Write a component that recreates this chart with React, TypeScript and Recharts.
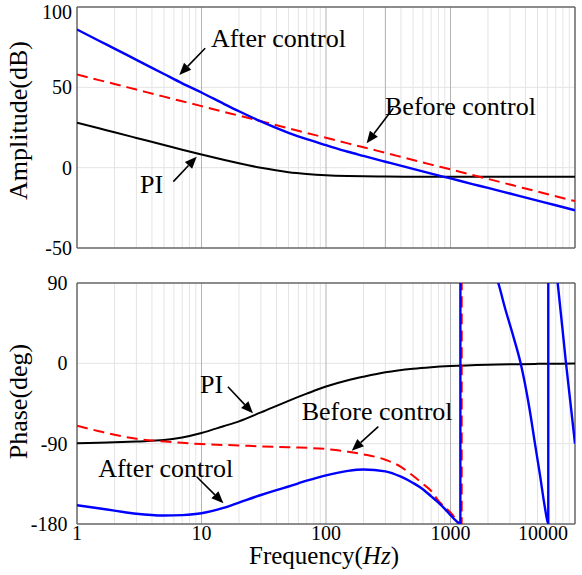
import React from 'react'
import { LineChart, Line, XAxis, YAxis, ReferenceLine, ReferenceDot, Label } from 'recharts'

const FONT = "'Liberation Serif', Tinos, 'Times New Roman', serif"

// ---- amplitude panel (dB) ----
const ampFreq = [1, 1.5, 2, 3, 5, 7, 10, 15, 20, 30, 50, 70, 100, 150, 200, 300, 500, 700, 1000, 1500, 2000, 3000, 5000, 7000, 10000]
const ampBefore = [58, 54.5, 52.1, 48.6, 44.2, 41.3, 38.3, 34.8, 32.4, 28.9, 24.5, 21.6, 18.6, 15.1, 12.7, 9.2, 4.8, 1.9, -1.1, -4.6, -7.0, -10.5, -14.9, -17.8, -20.8]
const ampAfter = [86.0, 79.0, 74.1, 67.1, 58.3, 52.5, 46.8, 39.9, 35.1, 28.8, 21.7, 17.7, 14.0, 9.9, 7.3, 3.7, -0.8, -3.7, -6.7, -10.2, -12.6, -16.1, -20.5, -23.4, -26.5]
const ampPI = [28.0, 24.5, 22.0, 18.5, 14.1, 11.2, 8.2, 4.9, 2.7, -0.1, -2.8, -3.9, -4.7, -5.2, -5.4, -5.5, -5.6, -5.6, -5.6, -5.6, -5.6, -5.6, -5.6, -5.6, -5.6]

// ---- phase panel (deg) ----
const phPIFreq = [1, 2, 3, 5, 7, 10, 15, 20, 30, 50, 70, 100, 150, 200, 300, 500, 700, 1000, 2000, 5000, 10000]
const phPI = [-89.5, -88.5, -87.5, -86, -83, -78, -70.5, -65, -55, -42, -34, -26, -19, -15, -10, -6, -4.3, -3, -1.5, -0.6, -0.3]

// wraps from -180 to +180 (values above 90 are clipped by the axis)
const phBeforeFreq = [1, 1.5, 2, 3, 4.4, 7, 10, 20, 30, 50, 100, 150, 200, 300, 400, 500, 600, 700, 800, 900, 1000, 1100, 1230, 1231]
const phBefore = [-70, -76, -80, -84.5, -87, -89, -90.5, -92, -93, -94, -96, -99, -102, -108, -116, -126, -135, -143, -154, -161, -167, -174, -180, 180]

const phAfterFreq = [1, 2, 3, 5, 7, 10, 15, 20, 30, 40, 50, 70, 100, 150, 200, 300, 400, 500, 600, 700, 800, 900, 1000, 1100, 1200, 1201, 1800, 2420, 2740, 3200, 3660, 4300, 4770, 5230, 5740, 6100, 6101, 7260, 8470, 10000]
const phAfter = [-159, -165, -168.5, -170.5, -170, -168, -162, -156, -147.5, -142, -138, -131.5, -125.5, -120.5, -119, -121, -127, -134, -141, -149, -156, -163, -170, -176, -180, 180, 130, 90, 62, 30, 0, -50, -90, -125, -162, -180, 180, 90, 0, -90]

// axes
const freqDomain = [1, 10000]
const freqTicks = [1, 10, 100, 1000, 10000]
const ampTicks = [-50, 0, 50, 100]
const phTicks = [-180, -90, 0, 90]
const minorFreqs = [1, 10, 100, 1000].flatMap((d) => [2, 3, 4, 5, 6, 7, 8, 9].map((m) => d * m))
const majorFreqs = [10, 100, 1000]
const ampMajorExtra = [300]
const ampGridY = [0, 50]
const phGridY = [-90, 0]

// annotations: text anchored at (freq, value), arrows from -> to
const ampNotes = [
  { text: 'After control', f: 11.9, v: 74.9 },
  { text: 'Before control', f: 298, v: 32.8 },
  { text: 'PI', f: 3.21, v: -15.6 },
]
const ampArrows = [
  { from: [10.7, 74.3], to: [6.63, 57.7] },
  { from: [347, 37], to: [212, 15.2] },
  { from: [5.94, -8.7], to: [9.15, 6.85] },
]
const phNotes = [
  { text: 'PI', f: 9.73, v: -33.6 },
  { text: 'Before control', f: 63.8, v: -63.5 },
  { text: 'After control', f: 1.48, v: -127 },
]
const phArrows = [
  { from: [16.3, -26.2], to: [25.9, -56] },
  { from: [263, -71], to: [161, -97.9] },
  { from: [9.15, -127], to: [15.0, -156.8] },
]

const toRows = (fs: number[], vs: number[]) => fs.map((f, i) => ({ f, v: vs[i] }))

const MINOR = '#e4e4e4'
const MAJOR = '#b3b3b3'
const BORDER = '#666'

function ArrowShape(p: any) {
  const { x1, y1, x2, y2 } = p
  const dx = x2 - x1
  const dy = y2 - y1
  const len = Math.hypot(dx, dy) || 1
  const ux = dx / len
  const uy = dy / len
  const head = 12
  const half = 5
  const bx = x2 - ux * head
  const by = y2 - uy * head
  const pts = `${x2},${y2} ${bx - uy * half},${by + ux * half} ${bx + uy * half},${by - ux * half}`
  return (
    <g>
      <line x1={x1} y1={y1} x2={bx} y2={by} stroke="#000" strokeWidth={1.6} />
      <polygon points={pts} fill="#000" />
    </g>
  )
}

function noteShape(text: string) {
  return (p: any) => (
    <text x={p.cx} y={p.cy} style={{ fontSize: 26, fontFamily: FONT }} fill="#000">
      {text}
    </text>
  )
}

function yTitle(text: string, shift: number) {
  return (p: any) => {
    const vb = p.viewBox || { x: 0, y: 0, width: 77, height: 241 }
    const cx = vb.x + 27
    const cy = vb.y + vb.height / 2 + shift
    return (
      <text x={cx} y={cy} transform={`rotate(-90 ${cx} ${cy})`} textAnchor="middle" style={{ fontSize: 26, fontFamily: FONT }} fill="#000">
        {text}
      </text>
    )
  }
}

function xTitle(p: any) {
  const vb = p.viewBox
  const cx = vb.x + vb.width / 2 - 2
  return (
    <text x={cx} y={vb.y + 40} textAnchor="middle" style={{ fontSize: 25, fontFamily: FONT }} fill="#000">
      <tspan>Frequency(</tspan>
      <tspan fontStyle="italic">Hz</tspan>
      <tspan>)</tspan>
    </text>
  )
}

function FreqTick(p: any) {
  const { x, y, payload } = p
  const last = payload.value === freqTicks[freqTicks.length - 1]
  return (
    <text x={last ? x + 6 : x} y={y} dy={14} textAnchor={last ? 'end' : 'middle'} style={{ fontSize: 20, fontFamily: FONT }} fill="#000">
      {payload.value}
    </text>
  )
}

function grid(yLines: number[], extraMajor: number[], yDomain: number[]) {
  return [
    ...minorFreqs.map((f) => <ReferenceLine key={`mn${f}`} x={f} stroke={MINOR} strokeWidth={1} />),
    ...yLines.map((v) => <ReferenceLine key={`h${v}`} y={v} stroke={MINOR} strokeWidth={1} />),
    ...[...majorFreqs, ...extraMajor].map((f) => <ReferenceLine key={`mj${f}`} x={f} stroke={MAJOR} strokeWidth={1} />),
    <ReferenceLine key="bl" x={freqDomain[0]} stroke={BORDER} strokeWidth={1.5} />,
    <ReferenceLine key="br" x={freqDomain[1]} stroke={BORDER} strokeWidth={1.5} />,
    <ReferenceLine key="bt" y={yDomain[1]} stroke={BORDER} strokeWidth={1.5} />,
    <ReferenceLine key="bb" y={yDomain[0]} stroke={BORDER} strokeWidth={1.5} />,
  ]
}

function notes(list: { text: string; f: number; v: number }[], arrows: { from: number[]; to: number[] }[]) {
  return [
    ...list.map((n) => <ReferenceDot key={`t${n.text}`} x={n.f} y={n.v} r={0} shape={noteShape(n.text)} />),
    ...arrows.map((a, i) => (
      <ReferenceLine
        key={`a${i}`}
        segment={[{ x: a.from[0], y: a.from[1] }, { x: a.to[0], y: a.to[1] }]}
        shape={ArrowShape}
      />
    )),
  ]
}

export default function App() {
  const ampDomain = [-50, 100]
  const phDomain = [-180, 90]
  return (
    <div style={{ position: 'absolute', left: 0, top: 0, width: 582, height: 575, background: '#fff', fontFamily: FONT }}>
      <LineChart width={582} height={265} margin={{ top: 7, right: 7, bottom: 17, left: 0 }}>
        <XAxis dataKey="f" type="number" scale="log" domain={freqDomain} ticks={freqTicks} allowDataOverflow hide />
        <YAxis
          type="number"
          domain={ampDomain}
          ticks={ampTicks}
          allowDataOverflow
          width={77}
          axisLine={false}
          tickLine={false}
          tickSize={0}
          tickMargin={5}
          tick={{ fontSize: 20, fill: '#000', fontFamily: FONT }}
        >
          <Label content={yTitle('Amplitude(dB)', -7)} />
        </YAxis>
        {grid(ampGridY, ampMajorExtra, ampDomain)}
        <Line data={toRows(ampFreq, ampPI)} dataKey="v" type="monotone" stroke="#000" strokeWidth={2} dot={false} isAnimationActive={false} />
        <Line data={toRows(ampFreq, ampBefore)} dataKey="v" type="monotone" stroke="#ff0000" strokeWidth={2} strokeDasharray="11 6" dot={false} isAnimationActive={false} />
        <Line data={toRows(ampFreq, ampAfter)} dataKey="v" type="monotone" stroke="#0000ff" strokeWidth={2.4} dot={false} isAnimationActive={false} />
        {notes(ampNotes, ampArrows)}
      </LineChart>
      <LineChart width={582} height={310} margin={{ top: 18, right: 7, bottom: 0, left: 0 }}>
        <XAxis
          dataKey="f"
          type="number"
          scale="log"
          domain={freqDomain}
          ticks={freqTicks}
          allowDataOverflow
          height={51}
          axisLine={false}
          tickLine={false}
          tickSize={0}
          tickMargin={2}
          tick={FreqTick}
        >
          <Label content={xTitle} />
        </XAxis>
        <YAxis
          type="number"
          domain={phDomain}
          ticks={phTicks}
          allowDataOverflow
          width={77}
          axisLine={false}
          tickLine={false}
          tickSize={0}
          tickMargin={9.5}
          tick={{ fontSize: 20, fill: '#000', fontFamily: FONT }}
        >
          <Label content={yTitle('Phase(deg)', -2)} />
        </YAxis>
        {grid(phGridY, [], phDomain)}
        <Line data={toRows(phPIFreq, phPI)} dataKey="v" type="monotone" stroke="#000" strokeWidth={2} dot={false} isAnimationActive={false} />
        <Line data={toRows(phBeforeFreq, phBefore)} dataKey="v" type="monotone" stroke="#ff0000" strokeWidth={2} strokeDasharray="11 6" dot={false} isAnimationActive={false} />
        <Line data={toRows(phAfterFreq, phAfter)} dataKey="v" type="monotone" stroke="#0000ff" strokeWidth={2.4} dot={false} isAnimationActive={false} />
        {notes(phNotes, phArrows)}
      </LineChart>
    </div>
  )
}
